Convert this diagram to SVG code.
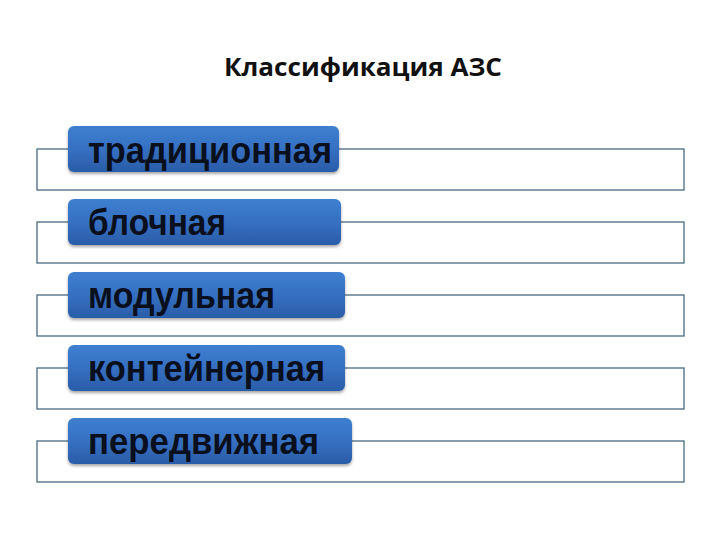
<svg xmlns="http://www.w3.org/2000/svg" width="720" height="540" viewBox="0 0 720 540">
<defs>
<linearGradient id="bg" x1="0" y1="0" x2="0" y2="1">
<stop offset="0" stop-color="#3d7fd0"/>
<stop offset="0.5" stop-color="#3670c2"/>
<stop offset="1" stop-color="#2a5ca8"/>
</linearGradient>
<filter id="sh" x="-5%" y="-10%" width="110%" height="130%">
<feDropShadow dx="0" dy="2" stdDeviation="1.5" flood-color="#000" flood-opacity="0.35"/>
</filter>
<style>
.frame{fill:#ffffff;stroke:#4a6a80;stroke-width:1.3}
.box{fill:url(#bg);filter:url(#sh)}
.lbl{font-family:"Liberation Sans",Arial,sans-serif;font-weight:bold;font-size:36px;fill:#0a0f1e}
.title{font-family:"Open Sans","Liberation Sans",sans-serif;font-weight:bold;font-size:25px;fill:#111}
</style>
</defs>
<rect width="720" height="540" fill="#ffffff"/>
<text class="title" x="224" y="76" textLength="278" lengthAdjust="spacingAndGlyphs">Классификация АЗС</text>
<g id="connectors">
<rect class="frame" x="37" y="149" width="647" height="41"/>
<rect class="frame" x="37" y="222" width="647" height="41"/>
<rect class="frame" x="37" y="295" width="647" height="41"/>
<rect class="frame" x="37" y="368" width="647" height="41"/>
<rect class="frame" x="37" y="441" width="647" height="41"/>
</g>
<g id="n1"><rect class="box" x="68" y="126" width="271" height="46" rx="6"/><text class="lbl" x="88" y="163" textLength="244" lengthAdjust="spacingAndGlyphs">традиционная</text></g>
<g id="n2"><rect class="box" x="68" y="199" width="273" height="46" rx="6"/><text class="lbl" x="88" y="235" textLength="138" lengthAdjust="spacingAndGlyphs">блочная</text></g>
<g id="n3"><rect class="box" x="68" y="272" width="277" height="46" rx="6"/><text class="lbl" x="88" y="308" textLength="187" lengthAdjust="spacingAndGlyphs">модульная</text></g>
<g id="n4"><rect class="box" x="68" y="345" width="277" height="46" rx="6"/><text class="lbl" x="88" y="381" textLength="237" lengthAdjust="spacingAndGlyphs">контейнерная</text></g>
<g id="n5"><rect class="box" x="68" y="418" width="284" height="46" rx="6"/><text class="lbl" x="88" y="454" textLength="231" lengthAdjust="spacingAndGlyphs">передвижная</text></g>
</svg>
